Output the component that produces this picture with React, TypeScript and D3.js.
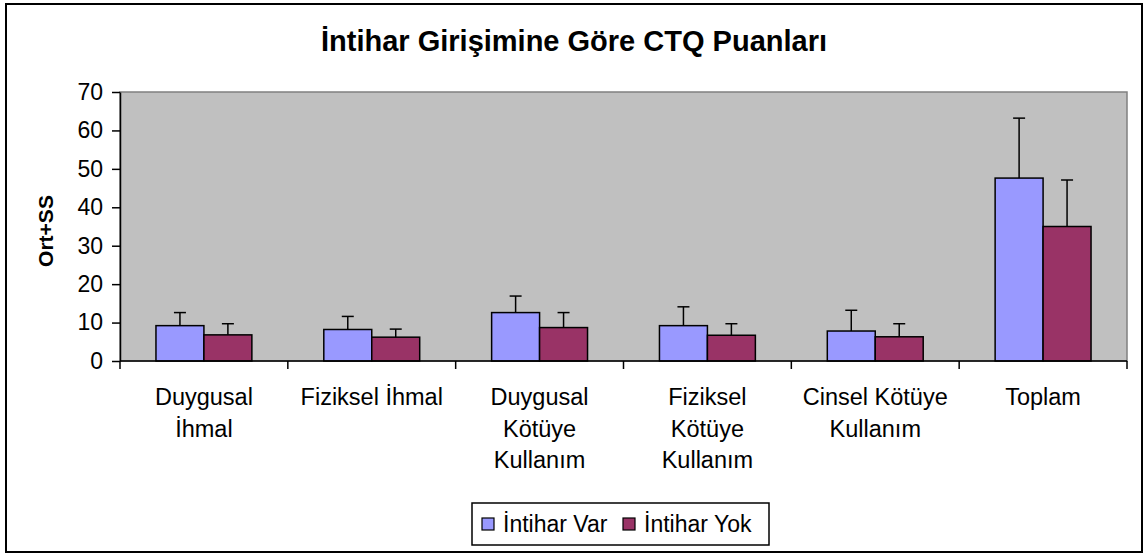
import React, { useEffect, useRef } from 'react';
import * as d3 from 'd3';

const categories = [
  'Duygusal\nİhmal',
  'Fiziksel İhmal',
  'Duygusal\nKötüye\nKullanım',
  'Fiziksel\nKötüye\nKullanım',
  'Cinsel Kötüye\nKullanım',
  'Toplam',
];
const seriesNames = ['İntihar Var', 'İntihar Yok'];
const varMeans = [9.2, 8.2, 12.6, 9.2, 7.8, 47.6];
const varSD = [3.4, 3.4, 4.3, 4.9, 5.4, 15.6];
const yokMeans = [6.8, 6.2, 8.7, 6.7, 6.3, 35.0];
const yokSD = [2.9, 2.1, 3.9, 3.0, 3.4, 12.1];
const yTicks = [0, 10, 20, 30, 40, 50, 60, 70];
const colors = ['#9999FF', '#993366'];

const FONT = '"Liberation Sans", Arial, sans-serif';

const App = () => {
  const ref = useRef<SVGSVGElement | null>(null);

  useEffect(() => {
    const svg = d3.select(ref.current);
    svg.selectAll('*').remove();

    const plot = { left: 120, right: 1127, top: 92, bottom: 361 };

    // outer chart border
    svg.append('rect')
      .attr('x', 6).attr('y', 4)
      .attr('width', 1136).attr('height', 548)
      .attr('fill', '#fff').attr('stroke', '#000').attr('stroke-width', 2);

    svg.append('text')
      .attr('x', 574).attr('y', 51)
      .attr('text-anchor', 'middle')
      .attr('font-family', FONT).attr('font-weight', 'bold').attr('font-size', 29)
      .text('İntihar Girişimine Göre CTQ Puanları');

    const x = d3.scaleBand().domain(categories).range([plot.left, plot.right]).padding(0);
    const xs = d3.scaleBand().domain(seriesNames).range([0, x.bandwidth()])
      .paddingInner(0).paddingOuter(0.75);
    const y = d3.scaleLinear().domain([0, 70]).range([plot.bottom, plot.top]);

    // plot area
    svg.append('rect')
      .attr('x', plot.left).attr('y', plot.top)
      .attr('width', plot.right - plot.left).attr('height', plot.bottom - plot.top)
      .attr('fill', '#C0C0C0').attr('stroke', '#808080').attr('stroke-width', 1.5);

    const rows = categories.map((c, i) => ({
      cat: c,
      vals: [
        { s: seriesNames[0], v: varMeans[i], sd: varSD[i] },
        { s: seriesNames[1], v: yokMeans[i], sd: yokSD[i] },
      ],
    }));

    const groups = svg.selectAll('.grp').data(rows).enter().append('g')
      .attr('transform', d => `translate(${x(d.cat)},0)`);

    groups.selectAll('rect').data(d => d.vals).enter().append('rect')
      .attr('x', d => xs(d.s) as number)
      .attr('y', d => y(d.v))
      .attr('width', xs.bandwidth())
      .attr('height', d => y(0) - y(d.v))
      .attr('fill', (d, i) => colors[i])
      .attr('stroke', '#000').attr('stroke-width', 1.5);

    // error bars (upper only)
    const err = groups.selectAll('.err').data(d => d.vals).enter().append('g')
      .attr('stroke', '#000').attr('stroke-width', 1.5);
    err.append('line')
      .attr('x1', d => (xs(d.s) as number) + xs.bandwidth() / 2)
      .attr('x2', d => (xs(d.s) as number) + xs.bandwidth() / 2)
      .attr('y1', d => y(d.v)).attr('y2', d => y(d.v + d.sd));
    err.append('line')
      .attr('x1', d => (xs(d.s) as number) + xs.bandwidth() / 2 - 6)
      .attr('x2', d => (xs(d.s) as number) + xs.bandwidth() / 2 + 6)
      .attr('y1', d => y(d.v + d.sd)).attr('y2', d => y(d.v + d.sd));

    // y axis
    const yAxis = svg.append('g')
      .attr('transform', `translate(${plot.left},0)`)
      .call(d3.axisLeft(y).tickValues(yTicks).tickSize(8).tickSizeOuter(0).tickPadding(9));
    yAxis.select('.domain').attr('stroke', '#000').attr('stroke-width', 1.5);
    yAxis.selectAll('.tick line').attr('stroke', '#000').attr('stroke-width', 1.5);
    yAxis.selectAll('.tick text')
      .attr('font-family', FONT).attr('font-size', 23).attr('fill', '#000');

    // x axis with ticks between categories
    svg.append('line')
      .attr('x1', plot.left).attr('x2', plot.right)
      .attr('y1', plot.bottom).attr('y2', plot.bottom)
      .attr('stroke', '#000').attr('stroke-width', 1.5);
    const bounds = categories.map(c => x(c) as number).concat([plot.right]);
    svg.selectAll('.xtick').data(bounds).enter().append('line')
      .attr('x1', d => d).attr('x2', d => d)
      .attr('y1', plot.bottom).attr('y2', plot.bottom + 8)
      .attr('stroke', '#000').attr('stroke-width', 1.5);

    const labels = svg.selectAll('.xlab').data(categories).enter().append('text')
      .attr('text-anchor', 'middle')
      .attr('font-family', FONT).attr('font-size', 23.5);
    labels.selectAll('tspan').data(d => d.split('\n').map(t => ({ t, c: d }))).enter()
      .append('tspan')
      .attr('x', d => (x(d.c) as number) + x.bandwidth() / 2)
      .attr('y', (d, i) => 405 + i * 31.5)
      .text(d => d.t);

    svg.append('text')
      .attr('transform', 'translate(53,231) rotate(-90)')
      .attr('text-anchor', 'middle')
      .attr('font-family', FONT).attr('font-weight', 'bold').attr('font-size', 21)
      .text('Ort+SS');

    // legend
    const lg = svg.append('g');
    lg.append('rect')
      .attr('x', 472).attr('y', 503).attr('width', 297).attr('height', 42)
      .attr('fill', '#fff').attr('stroke', '#000').attr('stroke-width', 1.5);
    const items = lg.selectAll('.li').data(seriesNames).enter().append('g')
      .attr('transform', (d, i) => `translate(${i === 0 ? 482 : 623},0)`);
    items.append('rect')
      .attr('x', 0).attr('y', 518).attr('width', 12).attr('height', 12)
      .attr('fill', (d, i) => colors[i]).attr('stroke', '#000').attr('stroke-width', 1.2);
    items.append('text')
      .attr('x', 21).attr('y', 532)
      .attr('font-family', FONT).attr('font-size', 23)
      .text(d => d);
  }, []);

  return (
    <svg ref={ref} width={1145} height={556}
      style={{ position: 'fixed', left: 0, top: 0, background: '#fff' }} />
  );
};

export default App;
